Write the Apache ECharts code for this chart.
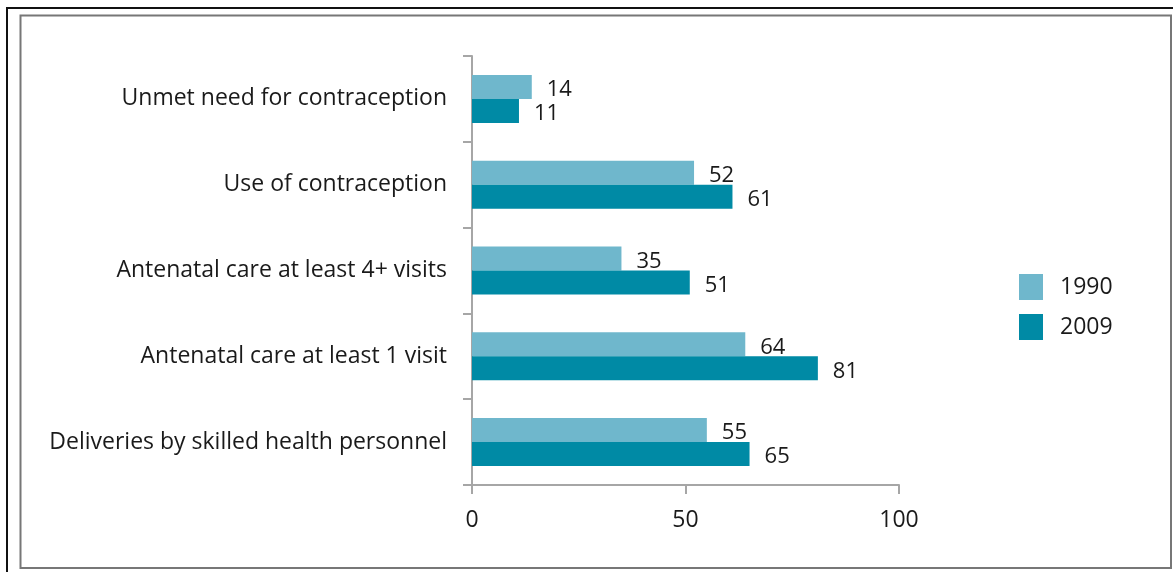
<!DOCTYPE html>
<html>
<head>
<meta charset="utf-8">
<script src="https://cdn.jsdelivr.net/npm/echarts@6/dist/echarts.min.js"></script>
<style>
  html, body { margin: 0; padding: 0; background: #fff; }
  #chart { width: 1173px; height: 572px; }
</style>
</head>
<body>
<div id="chart"></div>
<script>
// Reproductive health indicators (%), 1990 vs 2009
const categories = [
  'Unmet need for contraception',
  'Use of contraception',
  'Antenatal care at least 4+ visits',
  'Antenatal care at least 1 visit',
  'Deliveries by skilled health personnel'
];
const values1990 = [14, 52, 35, 64, 55];
const values2009 = [11, 61, 51, 81, 65];
const seriesNames = ['1990', '2009'];
const xTicks = [0, 50, 100];

const textColor = '#1a1a1a';
const axisColor = '#a6a6a6';
const fontFamily = '"Open Sans", "Noto Sans", sans-serif';

const chart = echarts.init(document.getElementById('chart'), null, { renderer: 'canvas' });

const labelStyle = {
  show: true,
  position: 'right',
  distance: 15,
  color: textColor,
  fontSize: 22,
  fontFamily: fontFamily,
  offset: [0, 3]
};

chart.setOption({
  animation: false,
  backgroundColor: '#fff',
  graphic: [
    { type: 'rect', shape: { x: 7, y: 8, width: 1200, height: 600 },
      style: { fill: 'none', stroke: '#111', lineWidth: 2 }, silent: true },
    { type: 'rect', shape: { x: 20.5, y: 15.5, width: 1150.5, height: 552.5 },
      style: { fill: 'none', stroke: '#777', lineWidth: 2 }, silent: true }
  ],
  legend: {
    orient: 'vertical',
    left: 1014,
    top: 269,
    itemWidth: 24,
    itemHeight: 26,
    itemGap: 14,
    icon: 'rect',
    textStyle: { color: textColor, fontSize: 23, fontFamily: fontFamily, padding: [0, 0, 0, 12] },
    data: seriesNames
  },
  grid: { left: 472, right: 274, top: 56, bottom: 87, containLabel: false },
  xAxis: {
    type: 'value',
    min: xTicks[0],
    max: xTicks[xTicks.length - 1],
    interval: xTicks[1] - xTicks[0],
    axisLine: { show: true, lineStyle: { color: axisColor, width: 2 } },
    axisTick: { show: true, length: 9, lineStyle: { color: axisColor, width: 2 } },
    splitLine: { show: false },
    axisLabel: { color: textColor, fontSize: 23, fontFamily: fontFamily, margin: 24 }
  },
  yAxis: {
    type: 'category',
    inverse: true,
    data: categories,
    axisLine: { show: true, lineStyle: { color: axisColor, width: 2 } },
    axisTick: { show: true, length: 9, lineStyle: { color: axisColor, width: 2 } },
    axisLabel: { color: textColor, fontSize: 23, fontFamily: fontFamily, margin: 25 }
  },
  series: [
    {
      name: seriesNames[0],
      type: 'bar',
      data: values1990,
      barWidth: 24,
      barGap: '0%',
      itemStyle: { color: '#6fb7cc' },
      label: labelStyle
    },
    {
      name: seriesNames[1],
      type: 'bar',
      data: values2009,
      barWidth: 24,
      itemStyle: { color: '#008aa5' },
      label: labelStyle
    }
  ]
});
</script>
</body>
</html>
